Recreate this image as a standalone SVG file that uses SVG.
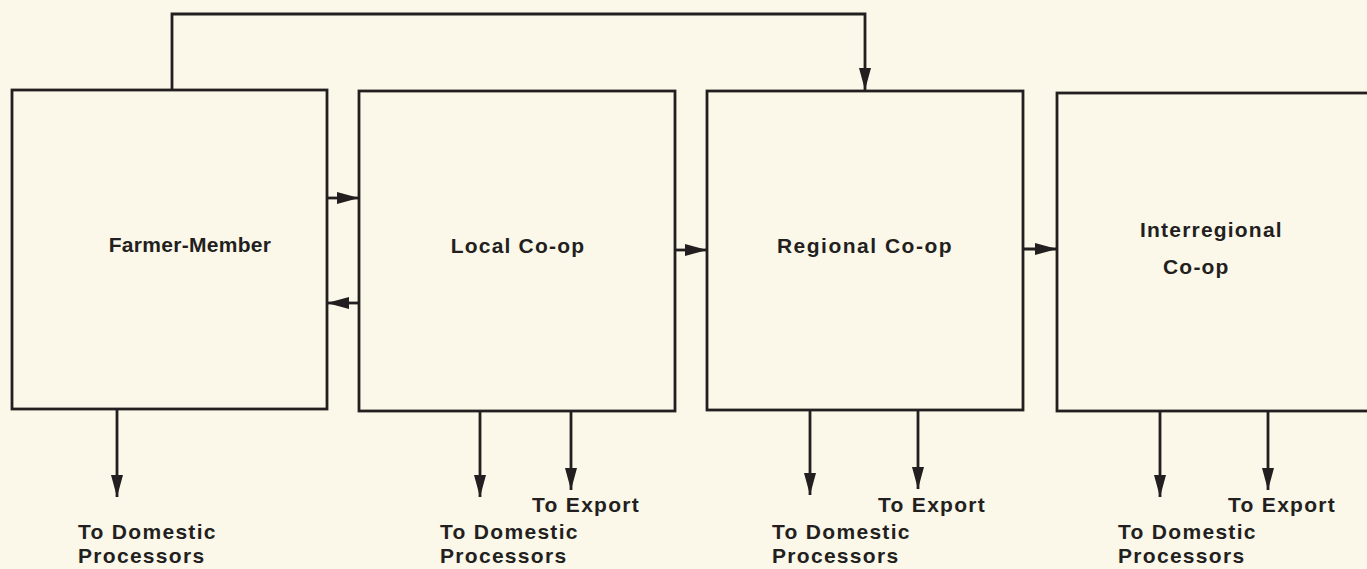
<svg xmlns="http://www.w3.org/2000/svg" width="1367" height="569" viewBox="0 0 1367 569">
<style>
.box{fill:none;stroke:#231f20;stroke-width:2.8}
.con{fill:none;stroke:#231f20;stroke-width:2.8}
.lbl{font-family:"Liberation Sans",Arial,sans-serif;font-weight:bold;font-size:21px;letter-spacing:1.2px;fill:#231f20}
.out{font-family:"Liberation Sans",Arial,sans-serif;font-weight:bold;font-size:21px;letter-spacing:1.3px;fill:#231f20}
</style>
<defs>
<marker id="ah" markerUnits="userSpaceOnUse" markerWidth="22" markerHeight="12" refX="22" refY="6" orient="auto" viewBox="0 0 22 12">
<path d="M0,0 L22,6 L0,12 Z" fill="#231f20"/>
</marker>
</defs>
<rect width="1367" height="569" fill="#fbf8ea"/>
<g id="farmer-member">
<rect class="box" x="12" y="90" width="315" height="319"/>
<text class="lbl" x="190" y="252" text-anchor="middle" style="letter-spacing:0.3px">Farmer-Member</text>
</g>
<g id="local-coop">
<rect class="box" x="359" y="91" width="316" height="320"/>
<text class="lbl" x="518" y="253" text-anchor="middle">Local Co-op</text>
</g>
<g id="regional-coop">
<rect class="box" x="707" y="91" width="316" height="319"/>
<text class="lbl" x="865" y="253" text-anchor="middle" style="letter-spacing:1.5px">Regional Co-op</text>
</g>
<g id="interregional-coop">
<rect class="box" x="1057" y="93" width="330" height="318"/>
<text class="lbl" x="1140" y="237">Interregional</text>
<text class="lbl" x="1163" y="274">Co-op</text>
</g>
<g id="outputs">
<text class="out" x="78" y="539">To Domestic</text>
<text class="out" x="78" y="563">Processors</text>
<text class="out" x="532" y="512">To Export</text>
<text class="out" x="440" y="539">To Domestic</text>
<text class="out" x="440" y="563">Processors</text>
<text class="out" x="878" y="512">To Export</text>
<text class="out" x="772" y="539">To Domestic</text>
<text class="out" x="772" y="563">Processors</text>
<text class="out" x="1228" y="512">To Export</text>
<text class="out" x="1118" y="539">To Domestic</text>
<text class="out" x="1118" y="563">Processors</text>
</g>
<g id="connectors">
<path class="con" d="M172,90 V14 H865 V90" marker-end="url(#ah)"/>
<line class="con" x1="327" y1="198" x2="359" y2="198" marker-end="url(#ah)"/>
<line class="con" x1="359" y1="303" x2="327" y2="303" marker-end="url(#ah)"/>
<line class="con" x1="675" y1="250" x2="707" y2="250" marker-end="url(#ah)"/>
<line class="con" x1="1023" y1="249" x2="1057" y2="249" marker-end="url(#ah)"/>
<line class="con" x1="117" y1="409" x2="117" y2="497" marker-end="url(#ah)"/>
<line class="con" x1="480" y1="411" x2="480" y2="497" marker-end="url(#ah)"/>
<line class="con" x1="571" y1="411" x2="571" y2="490" marker-end="url(#ah)"/>
<line class="con" x1="810" y1="410" x2="810" y2="495" marker-end="url(#ah)"/>
<line class="con" x1="918" y1="410" x2="918" y2="489" marker-end="url(#ah)"/>
<line class="con" x1="1160" y1="411" x2="1160" y2="497" marker-end="url(#ah)"/>
<line class="con" x1="1268" y1="411" x2="1268" y2="490" marker-end="url(#ah)"/>
</g>
</svg>
